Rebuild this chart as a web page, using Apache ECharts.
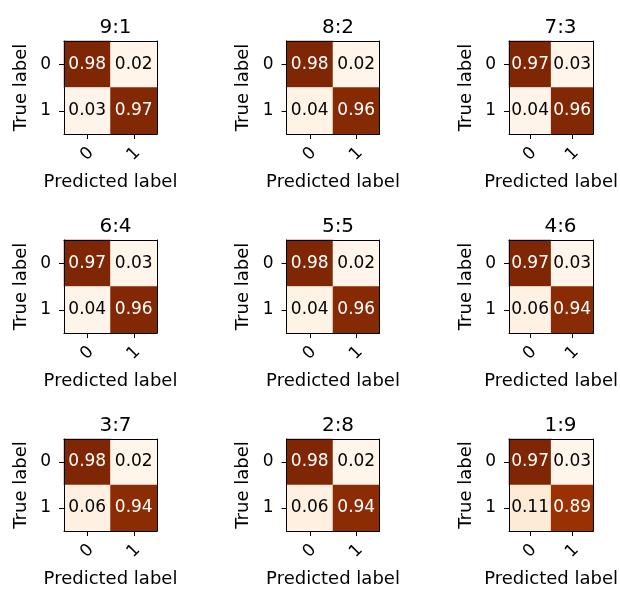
<!DOCTYPE html>
<html>
<head>
<meta charset="utf-8">
<script src="https://cdn.jsdelivr.net/npm/echarts@6/dist/echarts.min.js"></script>
<style>
  html, body { margin: 0; padding: 0; background: #ffffff; }
  #chart { width: 620px; height: 589px; }
</style>
</head>
<body>
<div id="chart"></div>
<script>
// Train:test split ratios, one confusion matrix per split
const splitRatios = ['9:1', '8:2', '7:3', '6:4', '5:5', '4:6', '3:7', '2:8', '1:9'];
const classTicks = ['0', '1'];

// Normalised confusion-matrix cells: [true][predicted]
const cellTrue0Pred0 = [0.98, 0.98, 0.97, 0.97, 0.98, 0.97, 0.98, 0.98, 0.97];
const cellTrue0Pred1 = [0.02, 0.02, 0.03, 0.03, 0.02, 0.03, 0.02, 0.02, 0.03];
const cellTrue1Pred0 = [0.03, 0.04, 0.04, 0.04, 0.04, 0.06, 0.06, 0.06, 0.11];
const cellTrue1Pred1 = [0.97, 0.96, 0.96, 0.96, 0.96, 0.94, 0.94, 0.94, 0.89];

// Matplotlib "Oranges" colour map
const orangesMap = ['#fff5eb', '#fee6ce', '#fdd0a2', '#fdae6b', '#fd8d3c',
                    '#f16913', '#d94801', '#a63603', '#7f2704'];

const FONT = 'DejaVu Sans';
const colLeft = [64, 286.5, 509];
const rowTop = [41, 240, 439];
const cellBox = 93;

const grid = [], xAxis = [], yAxis = [], series = [], visualMap = [], title = [];

splitRatios.forEach((ratio, i) => {
  const r = Math.floor(i / 3), c = i % 3;
  const left = colLeft[c], top = rowTop[r];

  grid.push({ left: left, top: top, width: cellBox, height: cellBox });

  title.push({
    text: ratio,
    left: left + cellBox / 2,
    top: top - 28,
    textAlign: 'center',
    textStyle: { fontFamily: FONT, fontSize: 20, fontWeight: 'normal', color: '#000' }
  });

  // bottom axis: ticks, rotated labels and axis name
  xAxis.push({
    type: 'category', gridIndex: i, data: classTicks, position: 'bottom', z: 5,
    axisLine: { show: true, onZero: false, lineStyle: { color: '#000', width: 1 } },
    axisTick: { show: true, alignWithLabel: true, length: 5, lineStyle: { color: '#000' } },
    axisLabel: {
      show: true, rotate: 45, margin: 20, align: 'center', verticalAlign: 'middle',
      fontFamily: FONT, fontSize: 17, color: '#000', interval: 0
    },
    splitLine: { show: false },
    name: 'Predicted label', nameLocation: 'middle', nameGap: 39,
    nameTextStyle: { fontFamily: FONT, fontSize: 18, color: '#000' }
  });
  // top edge of the frame
  xAxis.push({
    type: 'category', gridIndex: i, data: classTicks, position: 'top', z: 5,
    axisLine: { show: true, onZero: false, lineStyle: { color: '#000', width: 1 } },
    axisTick: { show: false }, axisLabel: { show: false }, splitLine: { show: false }
  });

  // left axis: ticks, labels and axis name
  yAxis.push({
    type: 'category', gridIndex: i, data: classTicks, inverse: true, position: 'left', z: 5,
    axisLine: { show: true, onZero: false, lineStyle: { color: '#000', width: 1 } },
    axisTick: { show: true, alignWithLabel: true, length: 5, lineStyle: { color: '#000' } },
    axisLabel: { show: true, margin: 13, fontFamily: FONT, fontSize: 17, color: '#000', interval: 0 },
    splitLine: { show: false },
    name: 'True label', nameLocation: 'middle', nameGap: 34, nameRotate: 90,
    nameTextStyle: { fontFamily: FONT, fontSize: 18, color: '#000' }
  });
  // right edge of the frame
  yAxis.push({
    type: 'category', gridIndex: i, data: classTicks, inverse: true, position: 'right', z: 5,
    axisLine: { show: true, onZero: false, lineStyle: { color: '#000', width: 1 } },
    axisTick: { show: false }, axisLabel: { show: false }, splitLine: { show: false }
  });

  const cells = [
    [0, 0, cellTrue0Pred0[i]],
    [1, 0, cellTrue0Pred1[i]],
    [0, 1, cellTrue1Pred0[i]],
    [1, 1, cellTrue1Pred1[i]]
  ];
  const vals = cells.map(d => d[2]);
  const vmin = Math.min(...vals), vmax = Math.max(...vals);
  const thresh = vmax / 2;

  visualMap.push({
    type: 'continuous', show: false, seriesIndex: i, dimension: 2,
    min: vmin, max: vmax, inRange: { color: orangesMap }
  });

  series.push({
    type: 'heatmap',
    xAxisIndex: 2 * i, yAxisIndex: 2 * i,
    data: cells.map(d => ({
      value: d,
      label: { color: d[2] > thresh ? '#ffffff' : '#000000' }
    })),
    label: {
      show: true,
      fontFamily: FONT, fontSize: 17,
      formatter: p => p.value[2].toFixed(2)
    },
    emphasis: { disabled: true }
  });
});

const chart = echarts.init(document.getElementById('chart'), null, { renderer: 'canvas' });
chart.setOption({
  animation: false,
  backgroundColor: '#ffffff',
  title: title,
  grid: grid,
  xAxis: xAxis,
  yAxis: yAxis,
  visualMap: visualMap,
  series: series
});
</script>
</body>
</html>
